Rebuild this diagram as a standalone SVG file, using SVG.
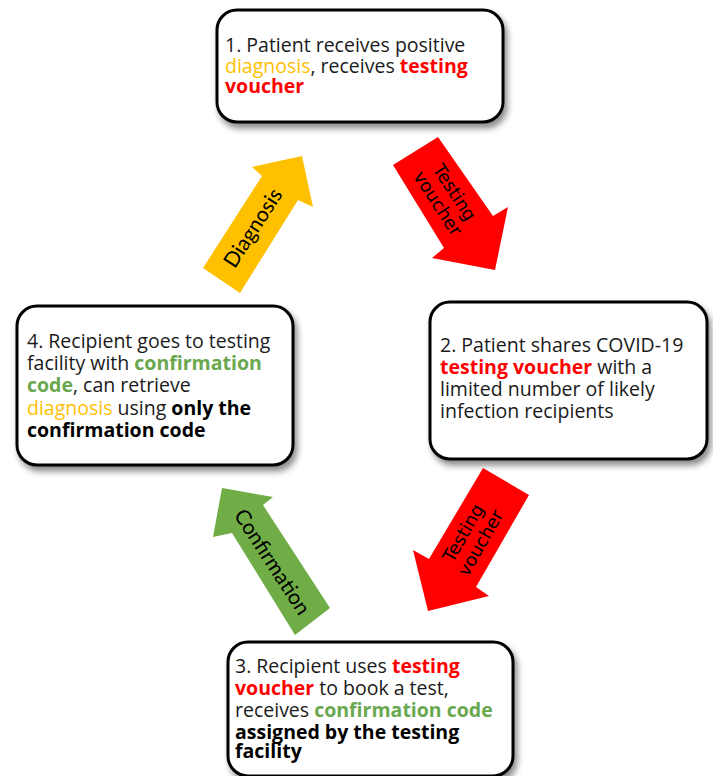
<svg xmlns="http://www.w3.org/2000/svg" width="713" height="776" viewBox="0 0 713 776">
<defs>
<filter id="sh" x="-10%" y="-10%" width="130%" height="140%">
<feDropShadow dx="3" dy="5" stdDeviation="3" flood-color="#000" flood-opacity="0.45"/>
</filter>
</defs>
<style>
.box{fill:#fff;stroke:#000;stroke-width:3;filter:url(#sh)}
.t{font-family:"Open Sans",sans-serif;font-size:19.5px;fill:#1a1a1a}
.r{fill:#ff0000;font-weight:bold}
.y{fill:#ffc000}
.g{fill:#6aa84f;font-weight:bold}
.b{font-weight:bold;fill:#000}
.at{font-family:"DejaVu Sans",sans-serif;font-size:18px;fill:#000;text-anchor:middle}
.ac{font-family:"Lato","Liberation Sans",sans-serif;font-size:21px;fill:#000;text-anchor:middle}
</style>
<rect width="713" height="776" fill="#fff"/>
<g id="connectors">
<g id="arrow1">
<polygon points="393,165 438,137 493,216 508,207 495,270 432,258 444,248" fill="#ff0000"/>
<text class="at" transform="translate(446,198) rotate(57)"><tspan x="0" y="-4">Testing</tspan><tspan x="0" y="16">voucher</tspan></text>
</g>
<g id="arrow2">
<polygon points="483,468 529,495 476,587 489,596 428,611 413,550 429,559" fill="#ff0000"/>
<text class="at" transform="translate(472,538) rotate(-60)"><tspan x="0" y="-4">Testing</tspan><tspan x="0" y="16">voucher</tspan></text>
</g>
<g id="arrow3">
<polygon points="222,488 273,497 263,505 330,608 295,635 232,533 213,537" fill="#70ad47"/>
<text class="ac" transform="translate(272,562) rotate(57)" y="7">Confirmation</text>
</g>
<g id="arrow4">
<polygon points="203,268 262,176 252,167 302,156 313,207 298,200 240,293" fill="#ffc000"/>
<text class="ac" transform="translate(253,228) rotate(-57)" y="7">Diagnosis</text>
</g>
</g>
<g id="node1">
<rect class="box" x="217" y="10" width="286" height="112" rx="20"/>
<text class="t" x="225" y="52">1. Patient receives positive</text>
<text class="t" x="225" y="73"><tspan class="y">diagnosis</tspan>, receives <tspan class="r">testing</tspan></text>
<text class="t" x="225" y="93"><tspan class="r">voucher</tspan></text>
</g>
<g id="node2">
<rect class="box" x="430" y="302" width="277" height="157" rx="20"/>
<text class="t" x="440" y="352">2. Patient shares COVID-19</text>
<text class="t" x="440" y="374"><tspan class="r">testing voucher</tspan> with a</text>
<text class="t" x="440" y="396">limited number of likely</text>
<text class="t" x="440" y="418">infection recipients</text>
</g>
<g id="node4">
<rect class="box" x="17" y="306" width="276" height="159" rx="20"/>
<text class="t" x="27" y="348">4. Recipient goes to testing</text>
<text class="t" x="27" y="370">facility with <tspan class="g">confirmation</tspan></text>
<text class="t" x="27" y="392"><tspan class="g">code</tspan>, can retrieve</text>
<text class="t" x="27" y="415"><tspan class="y">diagnosis</tspan> using <tspan class="b">only the</tspan></text>
<text class="t" x="27" y="437"><tspan class="b">confirmation code</tspan></text>
</g>
<g id="node3">
<rect class="box" x="228" y="642" width="285" height="134" rx="20"/>
<text class="t" x="235" y="673">3. Recipient uses <tspan class="r">testing</tspan></text>
<text class="t" x="235" y="695"><tspan class="r">voucher</tspan> to book a test,</text>
<text class="t" x="235" y="717">receives <tspan class="g">confirmation code</tspan></text>
<text class="t" x="235" y="739"><tspan class="b">assigned by the testing</tspan></text>
<text class="t" x="235" y="758"><tspan class="b">facility</tspan></text>
</g>
</svg>
